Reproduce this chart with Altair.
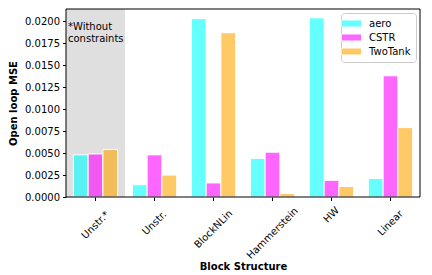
import altair as alt
import pandas as pd

structures = ["Unstr.*", "Unstr.", "BlockNLin", "Hammerstein", "HW", "Linear"]
series = ["aero", "CSTR", "TwoTank"]
aero = [0.0048, 0.0014, 0.0203, 0.0044, 0.0204, 0.0021]
cstr = [0.0049, 0.0048, 0.0016, 0.0051, 0.0019, 0.0138]
twotank = [0.0054, 0.0025, 0.0187, 0.0004, 0.0012, 0.0079]
colors = ["#00ffff", "#ff00ff", "#ffa500"]
y_ticks = [0.0, 0.0025, 0.005, 0.0075, 0.01, 0.0125, 0.015, 0.0175, 0.02]
shaded = ["Unstr.*"]
note = "*Without\nconstraints"

W, H = 354, 188
FONT = "DejaVu Sans"

rows = []
for s, vals in zip(series, [aero, cstr, twotank]):
    for st, v in zip(structures, vals):
        rows.append({"structure": st, "series": s, "mse": v})
df = pd.DataFrame(rows)

x_enc = alt.X(
    "structure:N",
    sort=structures,
    scale=alt.Scale(paddingInner=0, paddingOuter=0),
    axis=alt.Axis(
        labels=False, ticks=True, tickSize=3.5, tickColor="black", domain=False,
        title="Block Structure", titleFontWeight="bold", titleFontSize=10,
        titleFont=FONT, titleColor="black", titlePadding=60,
    ),
)

shade = alt.Chart(pd.DataFrame({"structure": shaded})).mark_rect(color="#dfdfdf").encode(
    x=alt.X("structure:N", sort=structures)
)

bars = alt.Chart(df).mark_bar(fillOpacity=0.6, stroke="white", strokeWidth=1).encode(
    x=x_enc,
    xOffset=alt.XOffset("series:N", sort=series,
                        scale=alt.Scale(paddingInner=0, paddingOuter=0.5)),
    y=alt.Y("mse:Q", scale=alt.Scale(domain=[0, 0.0214], nice=False),
            axis=alt.Axis(values=y_ticks, format=".4f", title="Open loop MSE",
                          titleFontWeight="bold", titleFontSize=10, titleFont=FONT,
                          titleColor="black", titlePadding=6,
                          labelFont=FONT, labelFontSize=10, labelColor="black",
                          tickSize=3.5, tickColor="black", labelPadding=3,
                          domain=False, grid=False)),
    color=alt.Color("series:N", scale=alt.Scale(domain=series, range=colors),
                    legend=alt.Legend(
                        title=None, orient="top-right", offset=4,
                        fillColor="white", strokeColor="#cccccc", cornerRadius=3,
                        padding=5, labelFont=FONT, labelFontSize=10, labelColor="black",
                        symbolType="M-2,-0.7L2,-0.7L2,0.7L-2,0.7Z",
                        symbolSize=100, symbolOpacity=0.6, symbolStrokeColor="white",
                        symbolStrokeWidth=1, rowPadding=3, labelOffset=12,
                    )),
)

note_layer = alt.Chart(pd.DataFrame({"structure": shaded, "text": [note]})).mark_text(
    align="left", baseline="top", lineBreak="\n", lineHeight=12,
    font=FONT, fontSize=10, color="black", dx=2,
).encode(
    x=alt.X("structure:N", sort=structures, bandPosition=0),
    y=alt.value(13),
    text="text:N",
)

labels = alt.Chart(pd.DataFrame({"structure": structures})).transform_calculate(
    ly=f"{H} + 10 + (length(datum.structure) * 5.8 + 11) * 0.7071 / 2"
).mark_text(angle=315, align="center", baseline="middle", font=FONT,
            fontSize=10, color="black").encode(
    x=alt.X("structure:N", sort=structures),
    y=alt.Y("ly:Q", scale=None, axis=None),
    text="structure:N",
)

frame = alt.Chart(pd.DataFrame({"structure": shaded})).mark_rect(
    fill=None, fillOpacity=0, stroke="black", strokeWidth=1
).encode(
    x=alt.value(0), x2=alt.value(W), y=alt.value(0), y2=alt.value(H)
)

chart = alt.layer(shade, bars, note_layer, labels, frame).resolve_scale(
    y="independent"
).properties(
    width=W, height=H,
    padding={"left": 0, "top": 0, "right": 0, "bottom": 0},
).configure_view(stroke=None)

chart.save("out.html", embed_options={"renderer": "svg", "actions": False})
